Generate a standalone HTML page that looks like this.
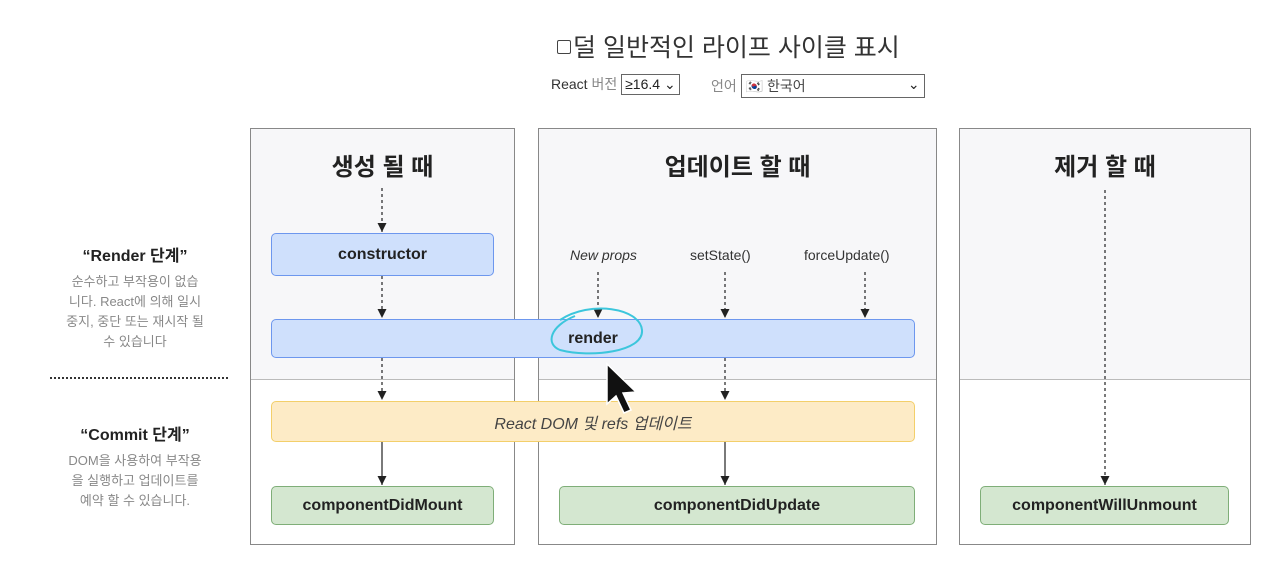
<!DOCTYPE html>
<html><head><meta charset="utf-8"><style>
body{margin:0;width:1280px;height:577px;background:#fff;font-family:"Liberation Sans","Noto Sans CJK KR",sans-serif;position:relative;overflow:hidden;color:#222}
.a{position:absolute}
.col{position:absolute;top:128px;height:417px;border:1px solid #888;box-sizing:border-box;background:linear-gradient(#f7f7f9 0,#f7f7f9 250px,#fff 250px)}
.col:after{content:"";position:absolute;left:0;right:0;top:250px;border-top:1px solid #bbb}
.h{position:absolute;top:18px;left:0;right:0;text-align:center;font-size:24px;font-weight:bold;color:#222}
.box{position:absolute;box-sizing:border-box;border-radius:5px;display:flex;align-items:center;justify-content:center;font-weight:bold;font-size:16px;color:#222}
.b{background:#cfe0fc;border:1.5px solid #6d97ee}
.y{background:#fdebc6;border:1.5px solid #f3cf6a;font-weight:normal;font-style:italic;color:#444}
.g{background:#d4e7d0;border:1.5px solid #7fae78}
.lab{position:absolute;font-size:14px;color:#333}
.side{position:absolute;text-align:center;width:170px}
.side b{font-size:16px;color:#222;display:block;margin-bottom:6px}
.side span{font-size:13px;color:#888;line-height:20px}
</style></head><body>
<div class="a" style="left:557px;top:28px;font-size:25px;color:#333"><span style="display:inline-block;width:12px;height:12px;border:1.5px solid #444;border-radius:2px;vertical-align:2px;margin-right:2px"></span>덜 일반적인 라이프 사이클 표시</div>
<div class="a" style="left:551px;top:74px;font-size:14px;color:#333">React <span style="color:#888">버전</span> <span style="display:inline-block;border:1px solid #666;padding:1px 3px;font-size:14px;color:#222">≥16.4 ⌄</span></div>
<div class="a" style="left:711px;top:74px;font-size:14px;color:#888">언어 <span style="display:inline-block;border:1px solid #666;padding:1px 4px;width:174px;color:#444;position:relative">🇰🇷 한국어<span style="position:absolute;right:4px;color:#222">⌄</span></span></div>

<div class="side" style="left:50px;top:242px"><b>“Render 단계”</b><span>순수하고 부작용이 없습<br>니다. React에 의해 일시<br>중지, 중단 또는 재시작 될<br>수 있습니다</span></div>
<div class="a" style="left:50px;top:377px;width:178px;border-top:2px dotted #333"></div>
<div class="side" style="left:50px;top:421px"><b>“Commit 단계”</b><span>DOM을 사용하여 부작용<br>을 실행하고 업데이트를<br>예약 할 수 있습니다.</span></div>

<div class="col" style="left:250px;width:265px"><div class="h">생성 될 때</div></div>
<div class="col" style="left:538px;width:399px"><div class="h">업데이트 할 때</div></div>
<div class="col" style="left:959px;width:292px"><div class="h">제거 할 때</div></div>

<svg class="a" style="left:0;top:0" width="1280" height="577">
<defs>
<marker id="t" viewBox="0 0 10 10" refX="10" refY="5" markerWidth="9" markerHeight="9" orient="auto" markerUnits="userSpaceOnUse"><path d="M0,0 L10,5 L0,10z" fill="#222"/></marker></defs>
<g stroke="#222" stroke-width="1.2" fill="none" marker-end="url(#t)">
<line x1="382" y1="188" x2="382" y2="232" stroke-dasharray="3,3"/>
<line x1="382" y1="276" x2="382" y2="318" stroke-dasharray="3,3"/>
<line x1="382" y1="358" x2="382" y2="400" stroke-dasharray="3,3"/>
<line x1="382" y1="442" x2="382" y2="485"/>
<line x1="598" y1="272" x2="598" y2="318" stroke-dasharray="3,3"/>
<line x1="725" y1="272" x2="725" y2="318" stroke-dasharray="3,3"/>
<line x1="865" y1="272" x2="865" y2="318" stroke-dasharray="3,3"/>
<line x1="725" y1="358" x2="725" y2="400" stroke-dasharray="3,3"/>
<line x1="725" y1="442" x2="725" y2="485"/>
<line x1="1105" y1="190" x2="1105" y2="485" stroke-dasharray="3,3"/>
</g>
</svg>

<div class="box b" style="left:271px;top:233px;width:223px;height:43px">constructor</div>
<div class="box b" style="left:271px;top:319px;width:644px;height:39px">render</div>
<div class="box y" style="left:271px;top:401px;width:644px;height:41px">React DOM 및 refs 업데이트</div>
<div class="box g" style="left:271px;top:486px;width:223px;height:39px">componentDidMount</div>
<div class="box g" style="left:559px;top:486px;width:356px;height:39px">componentDidUpdate</div>
<div class="box g" style="left:980px;top:486px;width:249px;height:39px">componentWillUnmount</div>

<div class="lab" style="left:570px;top:247px;font-style:italic">New props</div>
<div class="lab" style="left:690px;top:247px">setState()</div>
<div class="lab" style="left:804px;top:247px">forceUpdate()</div>

<svg class="a" style="left:0;top:0" width="1280" height="577">
<path d="M560,320 C590,300 640,308 642,330 C644,352 590,358 560,350 C545,344 550,326 575,316" stroke="#3cc6dc" stroke-width="2" fill="none"/>
<path d="M607,364 L607,404 L616,396 L624,413 L631,410 L623,393 L636,392 Z" fill="#111" stroke="#fff" stroke-width="1.5"/>
</svg>
</body></html>
